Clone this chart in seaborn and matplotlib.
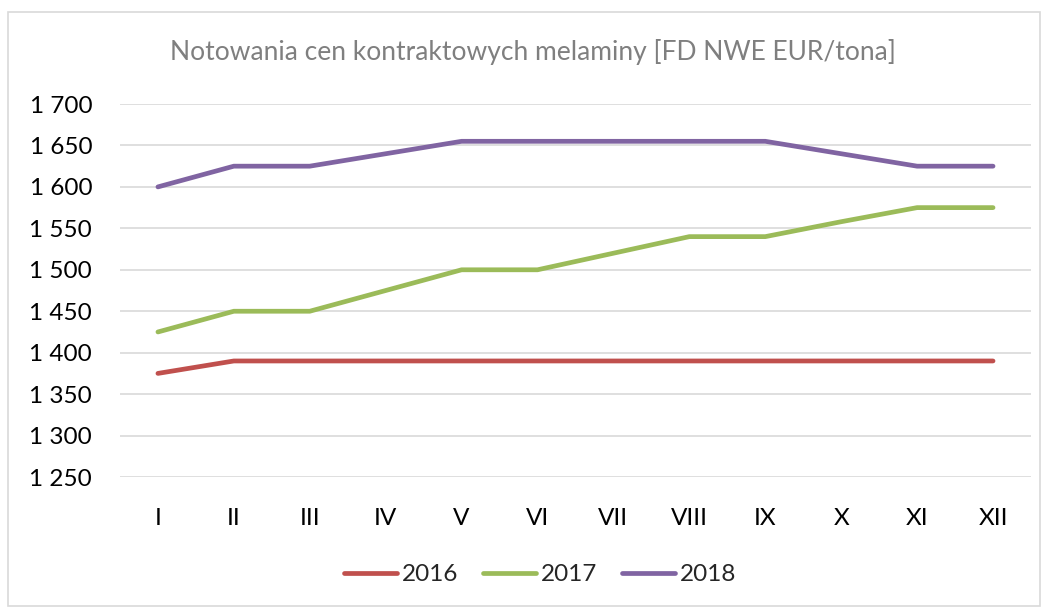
import pandas as pd
import matplotlib.pyplot as plt
import seaborn as sns
from matplotlib.patches import Rectangle
from matplotlib.ticker import FuncFormatter

# ------------------------------------------------------------
# Data: monthly contract prices of melamine, FD NWE EUR/ton
# ------------------------------------------------------------
months = ['I', 'II', 'III', 'IV', 'V', 'VI', 'VII', 'VIII', 'IX', 'X', 'XI', 'XII']
prices_2016 = [1375, 1390, 1390, 1390, 1390, 1390, 1390, 1390, 1390, 1390, 1390, 1390]
prices_2017 = [1425, 1450, 1450, 1475, 1500, 1500, 1520, 1540, 1540, 1558, 1575, 1575]
prices_2018 = [1600, 1625, 1625, 1640, 1655, 1655, 1655, 1655, 1655, 1640, 1625, 1625]

df = pd.concat([
    pd.DataFrame({'month': months, 'price': prices_2016, 'year': '2016'}),
    pd.DataFrame({'month': months, 'price': prices_2017, 'year': '2017'}),
    pd.DataFrame({'month': months, 'price': prices_2018, 'year': '2018'}),
])

palette = {'2016': '#C0504D', '2017': '#9BBB59', '2018': '#8064A2'}

sns.set_style('white')
plt.rcParams['font.family'] = ['Lato', 'DejaVu Sans']

fig = plt.figure(figsize=(10.45, 6.10), dpi=100)
ax = fig.add_axes([0.1148, 0.218, 0.8718, 0.6115])

sns.lineplot(data=df, x='month', y='price', hue='year', palette=palette,
             sort=False, linewidth=3.4, ax=ax,
             solid_capstyle='round', solid_joinstyle='round')

ax.set_xlim(-0.5, 11.5)
ax.set_ylim(1250, 1700)
ax.set_yticks(range(1250, 1701, 50))
ax.yaxis.set_major_formatter(FuncFormatter(lambda v, _: f'{int(v):,}'.replace(',', ' ')))
ax.grid(axis='y', color='#D9D9D9', linewidth=1.2)
ax.set_axisbelow(True)
for s in ax.spines.values():
    s.set_visible(False)
ax.tick_params(axis='both', length=0, labelsize=17.5, colors='black')
ax.tick_params(axis='y', pad=20)
ax.tick_params(axis='x', pad=22)
ax.set_xlabel('')
ax.set_ylabel('')

ax.set_title('Notowania cen kontraktowych melaminy [FD NWE EUR/tona]',
             color='#7F7F7F', fontsize=19, pad=32, x=0.453)

handles, labels = ax.get_legend_handles_labels()
ax.get_legend().remove()
leg = fig.legend(handles, labels, loc='center', bbox_to_anchor=(0.517, 0.058),
                 ncol=3, frameon=False, fontsize=17.5, handlelength=2.2,
                 handletextpad=0.2, columnspacing=1.0)

# chart border
fig.patches.append(Rectangle((8 / 1045, 4 / 610), 1032 / 1045, 594 / 610,
                             transform=fig.transFigure, fill=False,
                             edgecolor='#D9D9D9', linewidth=1.2))

plt.savefig('out.png', dpi=100)
